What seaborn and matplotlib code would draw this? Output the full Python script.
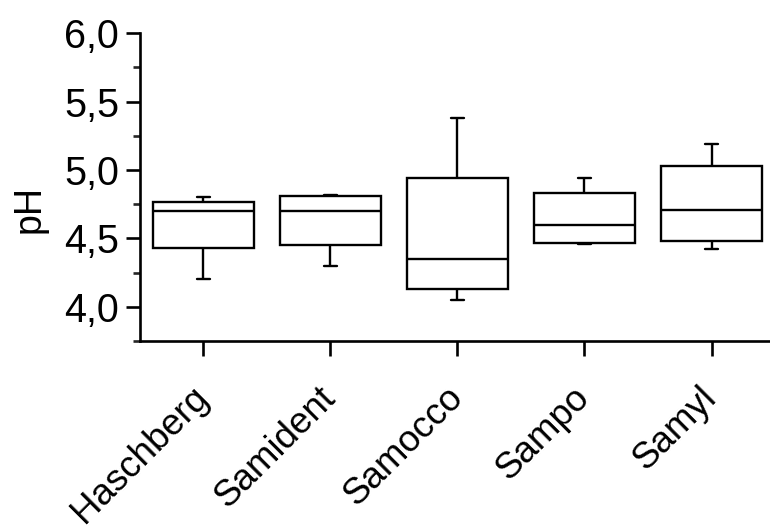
import numpy as np
import pandas as pd
import matplotlib
matplotlib.use("Agg")
import matplotlib.pyplot as plt
import matplotlib.ticker as mticker
import seaborn as sns

# Data (five-number summaries: min, Q1, median, Q3, max)
cultivars = ["Haschberg", "Samident", "Samocco", "Sampo", "Samyl"]
haschberg = [4.20, 4.43, 4.70, 4.77, 4.80]
samident = [4.30, 4.45, 4.70, 4.81, 4.82]
samocco = [4.05, 4.13, 4.35, 4.94, 5.38]
sampo = [4.46, 4.47, 4.60, 4.83, 4.94]
samyl = [4.42, 4.48, 4.71, 5.03, 5.19]
y_ticks = [4.0, 4.5, 5.0, 5.5, 6.0]
y_label = "pH"

series = [haschberg, samident, samocco, sampo, samyl]
df = pd.DataFrame({
    "cultivar": np.repeat(cultivars, [len(s) for s in series]),
    "pH": np.concatenate(series),
})

sns.set_style("ticks")
plt.rcParams["font.family"] = ["Liberation Sans", "DejaVu Sans"]
plt.rcParams["text.color"] = "black"
plt.rcParams["axes.labelcolor"] = "black"

fig = plt.figure(figsize=(7.7, 5.3), dpi=100)
ax = fig.add_axes([0.1818, 0.3566, 1.0065 - 0.1818, 0.9372 - 0.3566])

sns.boxplot(data=df, x="cultivar", y="pH", order=cultivars, ax=ax,
            whis=(0, 100), width=0.8, color="white", linecolor="black",
            linewidth=1.7, capwidths=0.105, showfliers=False)

for p in ax.patches:
    p.set_facecolor("white")
    p.set_edgecolor("black")

ax.set_ylim(3.75, 6.0)
ax.set_xlim(-0.5, 4.5)
ax.set_yticks(y_ticks)
ax.yaxis.set_minor_locator(mticker.MultipleLocator(0.25))
ax.yaxis.set_major_formatter(mticker.FuncFormatter(lambda v, p: f"{v:.1f}".replace(".", ",")))

for side in ["top", "right"]:
    ax.spines[side].set_visible(False)
for side in ["left", "bottom"]:
    ax.spines[side].set_linewidth(1.9)
    ax.spines[side].set_color("black")

ax.tick_params(axis="y", which="major", length=10, width=1.9, labelsize=28.5, pad=5, colors="black")
ax.tick_params(axis="y", which="minor", length=5, width=1.9)
ax.tick_params(axis="x", which="major", length=11, width=1.9, labelsize=26.5, pad=26, colors="black")

for lbl in ax.get_xticklabels():
    lbl.set_rotation(45)
    lbl.set_ha("right")
    lbl.set_va("center")
    lbl.set_rotation_mode("anchor")

ax.set_xlabel("")
ax.set_ylabel(y_label, fontsize=27, labelpad=12, y=0.43, color="black")

fig.savefig("out.png", dpi=100)
